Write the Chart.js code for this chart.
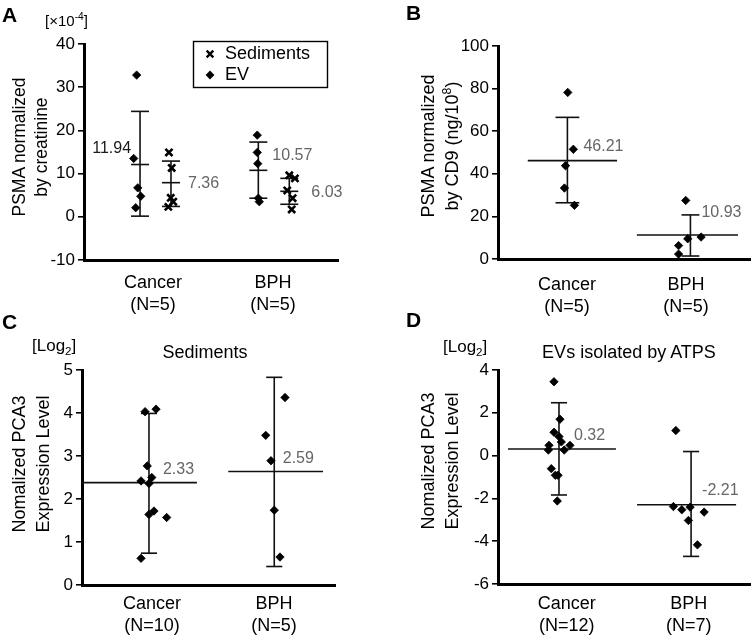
<!DOCTYPE html>
<html><head><meta charset="utf-8">
<script src="https://cdn.jsdelivr.net/npm/chart.js@4.4.0/dist/chart.umd.min.js"></script>
<style>
html,body{margin:0;padding:0;background:#fff;}
#wrap{position:relative;width:755px;height:639px;overflow:hidden;font-family:"Liberation Sans",Arial,sans-serif;color:#000;}
canvas{position:absolute;}
.t{position:absolute;white-space:nowrap;line-height:1;}
.letter{font-weight:bold;font-size:21px;}
.yt{position:absolute;white-space:nowrap;text-align:center;transform:translate(-50%,-50%) rotate(-90deg);font-size:18px;}
sup,sub{font-size:0.68em;line-height:0;}
</style></head>
<body><div id="wrap">
<canvas id="cA" width="378" height="320" style="left:0;top:0"></canvas>
<canvas id="cB" width="377" height="320" style="left:378px;top:0"></canvas>
<canvas id="cC" width="378" height="319" style="left:0;top:320px"></canvas>
<canvas id="cD" width="377" height="319" style="left:378px;top:320px"></canvas>

<div class="t letter" style="left:2px;top:4px">A</div>
<div class="t letter" style="left:406px;top:2px">B</div>
<div class="t letter" style="left:2px;top:311px">C</div>
<div class="t letter" style="left:406px;top:309px">D</div>

<div class="t" style="left:45px;top:13px;font-size:15px">[×10<sup>-4</sup>]</div>
<div class="t" style="left:32px;top:337px;font-size:17px">[Log<sub>2</sub>]</div>
<div class="t" style="left:443px;top:338px;font-size:17px">[Log<sub>2</sub>]</div>
<div class="t" style="left:205px;top:343px;font-size:18px;transform:translateX(-50%)">Sediments</div>
<div class="t" style="left:629px;top:343px;font-size:18px;transform:translateX(-50%)">EVs isolated by ATPS</div>

<div class="yt" style="left:29.5px;top:147px;line-height:22px;font-size:17.5px">PSMA normalized<br>by creatinine</div>
<div class="yt" style="left:439.5px;top:146px;line-height:24px">PSMA normalized<br>by CD9 (ng/10<sup>8</sup>)</div>
<div class="yt" style="left:31px;top:464px;line-height:24px">Nomalized PCA3<br>Expression Level</div>
<div class="yt" style="left:439.5px;top:461px;line-height:24px">Nomalized PCA3<br>Expression Level</div>
</div>
<script>
// ---------------- DATA ----------------
const seriesNames = ['Sediments', 'EV'];

// Panel A : PSMA normalized by creatinine (x10^-4)
const catLabelsA = [['Cancer', '(N=5)'], ['BPH', '(N=5)']];
const yTicksA = [-10, 0, 10, 20, 30, 40];
const aEvCancer = [32.8, 13.5, 6.7, 4.75, 2.1];
const aEvCancerX = [0.864, 0.839, 0.873, 0.898, 0.856];
const aSedCancer = [14.9, 11.3, 4.4, 3.5, 2.3];
const aSedCancerX = [1.133, 1.156, 1.148, 1.169, 1.128];
const aEvBph = [18.9, 14.9, 12.3, 4.3, 3.5];
const aEvBphX = [1.869, 1.869, 1.873, 1.878, 1.886];
const aSedBph = [9.6, 8.9, 6.1, 4.3, 1.7];
const aSedBphX = [2.136, 2.183, 2.119, 2.164, 2.156];
const aGroupX = [0.892, 1.15, 1.878, 2.136];   // EV-Cancer, Sed-Cancer, EV-BPH, Sed-BPH
const aMean = [12.1, 7.9, 10.76, 5.9];
const aSdLow = [0.15, 2.4, 4.3, 2.9];
const aSdHigh = [24.4, 12.9, 17.3, 8.9];
const aMeanLabels = ['11.94', '7.36', '10.57', '6.03'];

// Panel B : PSMA normalized by CD9
const catLabelsB = [['Cancer', '(N=5)'], ['BPH', '(N=5)']];
const yTicksB = [0, 20, 40, 60, 80, 100];
const bCancer = [78.2, 51.5, 43.8, 33.3, 25.2];
const bCancerX = [1.007, 1.054, 0.988, 0.979, 1.063];
const bBph = [27.5, 10.3, 9.5, 6.3, 2.3];
const bBphX = [1.998, 2.127, 2.015, 1.938, 1.938];
const bGroupX = [1.004, 2.0375];
const bMean = [46.2, 11.3];
const bSdLow = [26.4, 1.4];
const bSdHigh = [66.5, 20.7];
const bMeanLabels = ['46.21', '10.93'];

// Panel C : PCA3, sediments
const catLabelsC = [['Cancer', '(N=10)'], ['BPH', '(N=5)']];
const yTicksC = [0, 1, 2, 3, 4, 5];
const cCancer = [4.03, 4.09, 2.77, 2.50, 2.42, 2.36, 1.72, 1.64, 1.57, 0.62];
const cCancerX = [0.943, 1.033, 0.961, 0.998, 0.910, 0.975, 1.016, 0.975, 1.120, 0.910];
const cBph = [4.36, 3.48, 2.89, 1.74, 0.65];
const cBphX = [2.090, 1.932, 1.975, 2.002, 2.049];
const cGroupX = [0.975, 2.002];
const cMean = [2.38, 2.64];
const cSdLow = [0.74, 0.43];
const cSdHigh = [3.99, 4.83];
const cMeanLabels = ['2.33', '2.59'];

// Panel D : PCA3, EVs isolated by ATPS
const catLabelsD = [['Cancer', '(N=12)'], ['BPH', '(N=7)']];
const yTicksD = [-6, -4, -2, 0, 2, 4];
const dCancer = [3.45, 1.70, 1.09, 0.89, 0.64, 0.48, 0.48, 0.26, 0.26, -0.61, -0.92, -0.92, -2.12];
const dCancerX = [0.896, 0.945, 0.896, 0.937, 0.956, 0.855, 1.027, 0.850, 0.980, 0.874, 0.907, 0.929, 0.923];
const dBph = [1.17, -2.38, -2.53, -2.41, -2.64, -3.03, -4.17];
const dBphX = [1.895, 1.875, 1.944, 2.012, 2.127, 1.998, 2.072];
const dGroupX = [0.937, 2.02];
const dMean = [0.31, -2.30];
const dSdLow = [-1.84, -4.71];
const dSdHigh = [2.47, 0.19];
const dMeanLabels = ['0.32', '-2.21'];

// ---------------- RENDERING ----------------
const FONT = '"Liberation Sans", Arial, sans-serif';
Chart.defaults.font.family = FONT;
Chart.defaults.color = '#000';
const INK = '#111';
const GREY = '#666';

function pts(vals, xs) { return vals.map((v, i) => ({x: xs[i], y: v})); }

function diamondSet(vals, xs) {
  return {type: 'scatter', data: pts(vals, xs), pointStyle: 'rectRot', pointRadius: 4.2,
    backgroundColor: '#000', borderColor: '#000', borderWidth: 0.8, order: 0};
}
function crossSet(vals, xs) {
  return {type: 'scatter', data: pts(vals, xs), pointStyle: 'crossRot', pointRadius: 5,
    backgroundColor: '#000', borderColor: '#000', borderWidth: 2.6, order: 0};
}
function segSets(groupX, means, lows, highs, capHalf, meanExt) {
  const out = [];
  groupX.forEach((gx, i) => {
    const c = capHalf[i];
    const segs = [
      [{x: gx, y: lows[i]}, {x: gx, y: highs[i]}],
      [{x: gx - c, y: highs[i]}, {x: gx + c, y: highs[i]}],
      [{x: gx - c, y: lows[i]}, {x: gx + c, y: lows[i]}],
      [{x: gx + meanExt[i][0], y: means[i]}, {x: gx + meanExt[i][1], y: means[i]}]
    ];
    segs.forEach(s => out.push({type: 'scatter', data: s, showLine: true, borderColor: INK,
      borderWidth: 1.6, pointRadius: 0, fill: false, order: 1}));
  });
  return out;
}

const valueLabelPlugin = {
  id: 'valueLabels',
  afterDatasetsDraw(chart, args, opts) {
    const {ctx} = chart, x = chart.scales.x, y = chart.scales.y;
    ctx.save();
    ctx.font = '16px ' + FONT;
    ctx.textBaseline = 'middle';
    (opts.items || []).forEach(it => {
      ctx.fillStyle = it.color || GREY;
      ctx.textAlign = it.align || 'left';
      ctx.fillText(it.text, x.getPixelForValue(it.gx) + it.dx, y.getPixelForValue(it.my) + it.dy);
    });
    ctx.restore();
  }
};

const legendBoxPlugin = {
  id: 'legendBox',
  afterDraw(chart, args, opts) {
    if (!opts.names) return;
    const {ctx, chartArea} = chart;
    const L = chartArea.left + opts.dx, T = chartArea.top + opts.dy;
    ctx.save();
    ctx.strokeStyle = '#000'; ctx.lineWidth = 1.4;
    ctx.strokeRect(L + 0.5, T + 0.5, opts.w, opts.h);
    opts.names.forEach((name, i) => {
      const cy = T + opts.rows[i], mx = L + opts.markerX;
      ctx.fillStyle = '#000'; ctx.strokeStyle = '#000';
      if (i === 0) {
        ctx.lineWidth = 2.4; const r = 3.3;
        ctx.beginPath();
        ctx.moveTo(mx - r, cy - r); ctx.lineTo(mx + r, cy + r);
        ctx.moveTo(mx + r, cy - r); ctx.lineTo(mx - r, cy + r);
        ctx.stroke();
      } else {
        const r = 4.4;
        ctx.beginPath();
        ctx.moveTo(mx - r, cy); ctx.lineTo(mx, cy - r); ctx.lineTo(mx + r, cy); ctx.lineTo(mx, cy + r);
        ctx.closePath(); ctx.fill();
      }
      ctx.font = '18px ' + FONT; ctx.textBaseline = 'middle'; ctx.textAlign = 'left';
      ctx.fillText(name, L + opts.textX, cy);
    });
    ctx.restore();
  }
};

function makeChart(id, p, datasets, labelItems, legend) {
  new Chart(document.getElementById(id), {
    data: {datasets},
    plugins: [valueLabelPlugin, legendBoxPlugin],
    options: {
      responsive: false, animation: false, events: [],
      layout: {padding: {left: 0, top: p.padTop, right: p.padRight, bottom: 0}},
      plugins: {legend: {display: false}, tooltip: {enabled: false},
        valueLabels: {items: labelItems}, legendBox: legend || {}},
      scales: {
        x: {
          type: 'linear', min: p.xMin, max: p.xMax,
          afterBuildTicks: s => { s.ticks = [{value: 1}, {value: 2}]; },
          afterFit: s => { s.height = p.xAxisH; },
          ticks: {callback: v => p.cats[Math.round(v) - 1], font: {size: 18, lineHeight: 1.22},
            color: '#000', padding: p.xPad, maxRotation: 0, autoSkip: false},
          grid: {display: true, drawOnChartArea: false, drawTicks: false},
          border: {display: true, color: '#000', width: 3}
        },
        y: {
          type: 'linear', min: p.yTicks[0], max: p.yTicks[p.yTicks.length - 1],
          afterBuildTicks: s => { s.ticks = p.yTicks.map(v => ({value: v})); },
          afterFit: s => { s.width = p.yAxisW; },
          ticks: {callback: v => String(v), font: {size: 17}, color: '#000', padding: 3, autoSkip: false},
          grid: {display: true, drawOnChartArea: false, drawTicks: true, tickLength: 6, color: '#000', lineWidth: 1.6},
          border: {display: true, color: '#000', width: 3}
        }
      }
    }
  });
}

function labelItems(groupX, means, texts, style) {
  return texts.map((t, i) => Object.assign({text: t, gx: groupX[i], my: means[i]}, style[i]));
}

// Panel A
makeChart('cA',
  {xMin: 0.425, xMax: 2.542, yTicks: yTicksA, cats: catLabelsA, padTop: 44, padRight: 40, yAxisW: 84, xAxisH: 60, xPad: 12},
  [diamondSet(aEvCancer, aEvCancerX), crossSet(aSedCancer, aSedCancerX),
   diamondSet(aEvBph, aEvBphX), crossSet(aSedBph, aSedBphX),
   ...segSets(aGroupX, aMean, aSdLow, aSdHigh, [0.075, 0.075, 0.075, 0.075],
     [[-0.075, 0.075], [-0.075, 0.075], [-0.075, 0.075], [-0.075, 0.075]])],
  labelItems(aGroupX, aMean, aMeanLabels, [
    {dx: -9, dy: -16, align: 'right', color: '#1a1a1a'}, {dx: 17, dy: 1}, {dx: 14, dy: -15}, {dx: 22, dy: 1}]),
  {names: seriesNames, dx: 109, dy: -3, w: 134, h: 46, rows: [13, 34], markerX: 17, textX: 32}
);

// Panel B
makeChart('cB',
  {xMin: 0.421, xMax: 2.538, yTicks: yTicksB, cats: catLabelsB, padTop: 46, padRight: 3, yAxisW: 120, xAxisH: 61, xPad: 15},
  [diamondSet(bCancer, bCancerX), diamondSet(bBph, bBphX),
   ...segSets(bGroupX, bMean, bSdLow, bSdHigh, [0.1, 0.075], [[-0.333, 0.417], [-0.45, 0.40]])],
  labelItems(bGroupX, bMean, bMeanLabels, [{dx: 16, dy: -14}, {dx: 11, dy: -22}])
);

// Panel C
makeChart('cC',
  {xMin: 0.426, xMax: 2.500, yTicks: yTicksC, cats: catLabelsC, padTop: 50, padRight: 43, yAxisW: 82, xAxisH: 54, xPad: 8},
  [diamondSet(cCancer, cCancerX), diamondSet(cBph, cBphX),
   ...segSets(cGroupX, cMean, cSdLow, cSdHigh, [0.066, 0.066], [[-0.566, 0.393], [-0.377, 0.40]])],
  labelItems(cGroupX, cMean, cMeanLabels, [{dx: 14, dy: -13}, {dx: 8.5, dy: -13}])
);

// Panel D
makeChart('cD',
  {xMin: 0.437, xMax: 2.503, yTicks: yTicksD, cats: catLabelsD, padTop: 50, padRight: 5, yAxisW: 120, xAxisH: 55, xPad: 9},
  [diamondSet(dCancer, dCancerX), diamondSet(dBph, dBphX),
   ...segSets(dGroupX, dMean, dSdLow, dSdHigh, [0.066, 0.066], [[-0.418, 0.467], [-0.443, 0.369]])],
  labelItems(dGroupX, dMean, dMeanLabels, [{dx: 15, dy: -13}, {dx: 11, dy: -14}])
);
</script>
</body></html>
